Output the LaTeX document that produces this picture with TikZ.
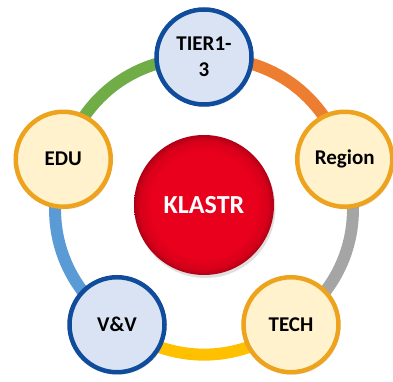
\documentclass[tikz,border=0pt]{standalone}
\usepackage{fontspec}
\setmainfont{Carlito}
\usepackage{tikz}
\usetikzlibrary{shadows,backgrounds}

\definecolor{ringorange}{HTML}{ED7D31}
\definecolor{ringgray}{HTML}{A5A5A5}
\definecolor{ringyellow}{HTML}{FFC000}
\definecolor{ringblue}{HTML}{5B9BD5}
\definecolor{ringgreen}{HTML}{70AD47}
\definecolor{darkblue}{HTML}{0F4C9C}
\definecolor{paleblue}{HTML}{DAE3F3}
\definecolor{darkamber}{HTML}{EDA31D}
\definecolor{palecream}{HTML}{FFF2CC}
\definecolor{klred}{HTML}{E8001C}

\pgfdeclareradialshading{buttonred}{\pgfpoint{0bp}{0bp}}{color(0bp)=(klred); color(19bp)=(klred); color(23bp)=(klred!92!black); color(25bp)=(klred!75!black); color(50bp)=(klred!75!black)}

\tikzset{
	member/.style={circle, line width=4.5pt, minimum size=95pt, align=center,
		font=\fontsize{21}{26}\selectfont\bfseries,
		drop shadow={opacity=0.22, shadow xshift=1.5pt, shadow yshift=-2.5pt}},
	bluebox/.style={member, draw=darkblue, fill=paleblue},
	creambox/.style={member, draw=darkamber, fill=palecream},
	hub/.style={circle, minimum size=140pt, shading=buttonred, text=white,
		font=\fontsize{26}{30}\selectfont\bfseries,
		drop shadow={opacity=0.25, shadow xshift=1.5pt, shadow yshift=-3pt}},
	ring/.style={line width=12pt}
}

\begin{document}
\begin{tikzpicture}[x=1pt,y=1pt]
				\def \r {148}
				\useasboundingbox (0,0) rectangle (393,382);
				\coordinate (c) at (204,177);

				\node[hub] (klastr) at (c) {KLASTR};
				\node[bluebox] (tier) at ([shift={(90:\r)}]c) {TIER1-\\3};
				\node[creambox] (region) at ([shift={(18:\r)}]c) {Region};
				\node[creambox] (tech) at ([shift={(-54:\r)}]c) {TECH};
				\node[bluebox] (vv) at ([shift={(-126:\r)}]c) {V\&V};
				\node[creambox] (edu) at ([shift={(162:\r)}]c) {EDU};

				% ring segments run centre to centre, hidden under the circles
				\begin{scope}[on background layer]
					\foreach \a\b\col in {tier/region/ringorange, region/tech/ringgray, tech/vv/ringyellow, vv/edu/ringblue, edu/tier/ringgreen} {
						\draw[ring, draw=\col] (\a.center) to[bend left=36] (\b.center);
					}
				\end{scope}
			\end{tikzpicture}
\end{document}
